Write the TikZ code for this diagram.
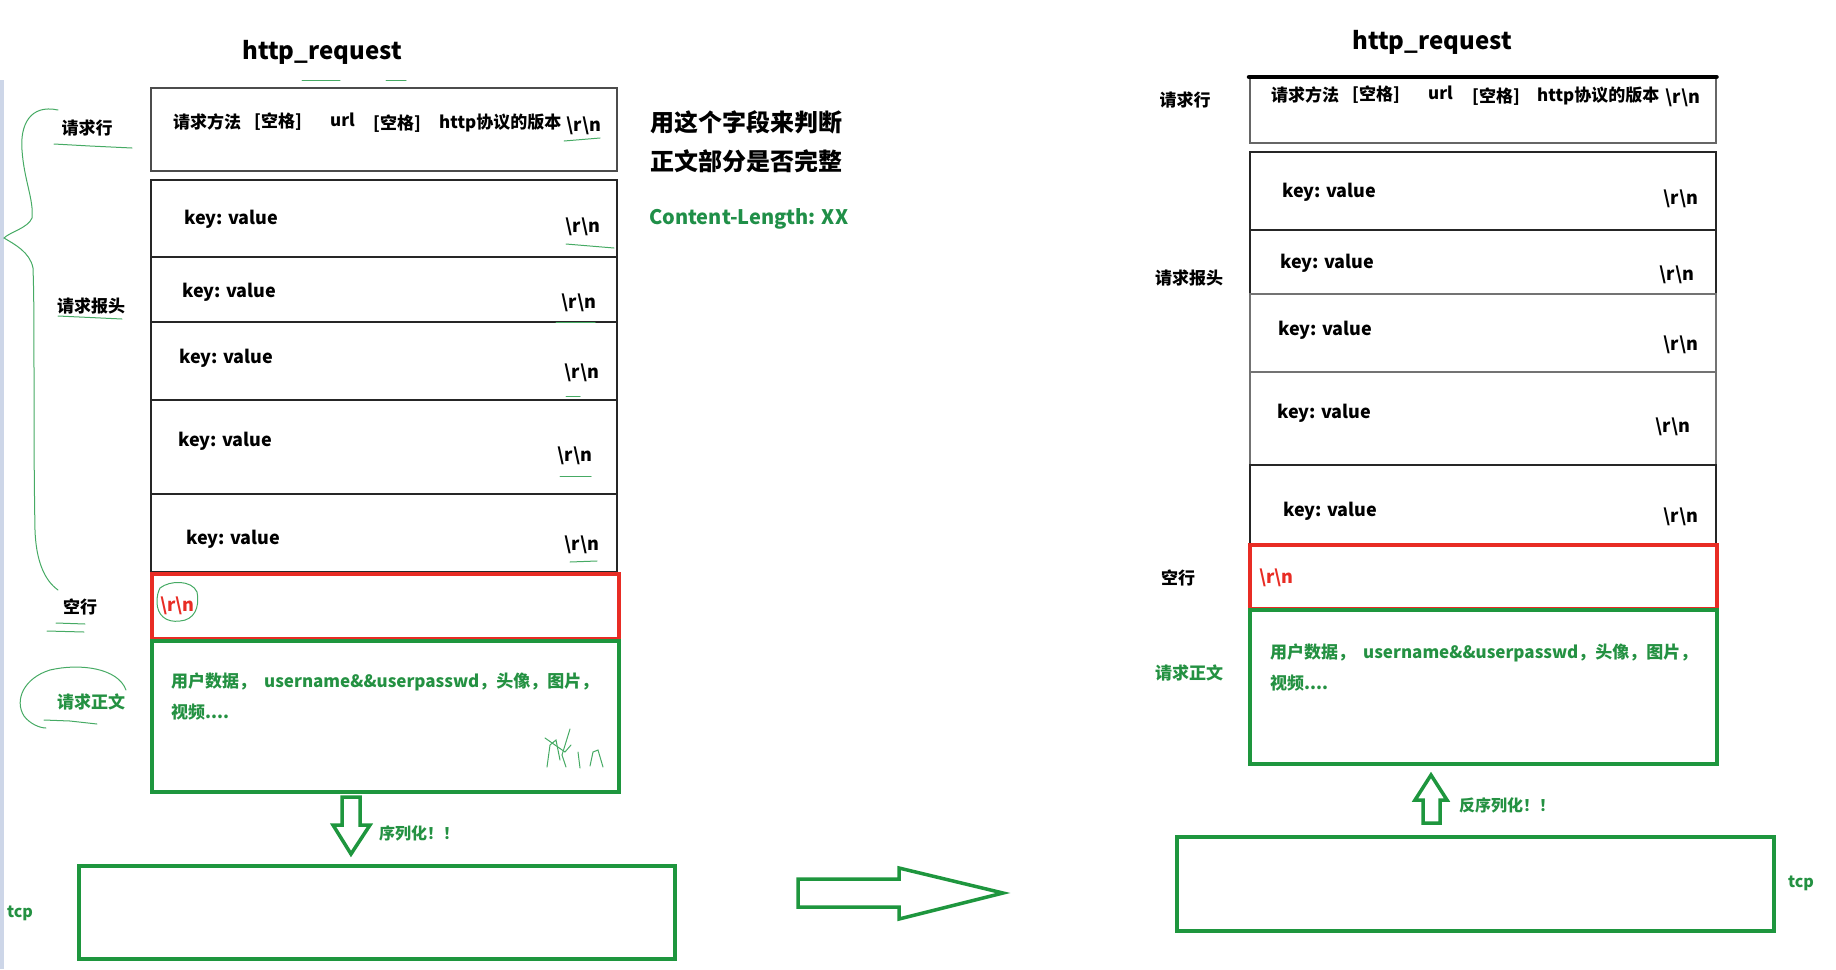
\documentclass[tikz,border=0pt]{standalone}
\usepackage{fontspec}
\setmainfont{Noto Sans CJK SC}
\definecolor{gr}{RGB}{30,150,62}
\definecolor{grt}{RGB}{36,145,66}
\definecolor{rd}{RGB}{232,44,36}
\definecolor{hand}{RGB}{70,170,100}
\definecolor{edge}{RGB}{205,214,232}
\newcommand\crlf{\textbackslash r\textbackslash n}
\begin{document}
\begin{tikzpicture}[x=1pt,y=-1pt,
  box/.style={draw=black!85, line width=2pt, minimum width=466pt, anchor=north west, inner sep=0},
  redbox/.style={draw=rd, line width=4pt, minimum width=467pt, anchor=north west, inner sep=0},
  grbox/.style={draw=gr, line width=4pt, anchor=north west, inner sep=0},
  txt/.style={font=\bfseries\fontsize{17}{20}\selectfont, inner sep=0, anchor=west},
  kv/.style={font=\bfseries\fontsize{18}{21}\selectfont, inner sep=0, anchor=west},
  rn/.style={font=\bfseries\fontsize{18}{21}\selectfont, inner sep=0},
  lab/.style={font=\bfseries\fontsize{17}{20}\selectfont, inner sep=0},
  ttl/.style={font=\bfseries\fontsize{24}{28}\selectfont, inner sep=0},
  gtxt/.style={font=\bfseries\fontsize{17}{20}\selectfont, inner sep=0, anchor=west, text=grt},
  arr/.style={draw=gr, line width=3.5pt, fill=white, line join=miter},
  hnd/.style={draw=hand, line width=1pt, line cap=round}
]
\useasboundingbox (0,0) rectangle (1836,969);
\fill[edge] (0,80) rectangle (4,969);

% ================= LEFT =================
\node[ttl] (tL) at (322,52) {http\_request};
\node[box, draw=black!70, line width=1.5pt, minimum height=83pt] (L1) at (150,87) {};
\node[box, minimum height=77pt] (L2) at (150,179) {};
\node[box, minimum height=65pt] (L3) at (150,256) {};
\node[box, minimum height=78pt] (L4) at (150,321) {};
\node[box, minimum height=94pt] (L5) at (150,399) {};
\node[box, minimum height=78pt] (L6) at (150,493) {};
\node[redbox, minimum height=65pt] (LR) at (150,572) {};
\node[grbox, minimum width=467pt, minimum height=151pt] (LB) at (150,639) {};
\node[grbox, minimum width=596pt, minimum height=93pt] (LT) at (77,864) {};

\node[txt] (l1a) at (173,122) {请求方法};
\node[txt] (l1b) at (254,122) {[空格]};
\node[txt] (l1c) at (330,120) {url};
\node[txt] (l1d) at (373,124) {[空格]};
\node[txt] (l1e) at (439,123) {http协议的版本};
\node[rn] (l1f) at (584,126) {\crlf};

\node[kv] (k2) at (184,219) {key: value};
\node[rn] (r2) at (583,227) {\crlf};
\node[kv] (k3) at (182,292) {key: value};
\node[rn] (r3) at (579,303) {\crlf};
\node[kv] (k4) at (179,358) {key: value};
\node[rn] (r4) at (582,373) {\crlf};
\node[kv] (k5) at (178,441) {key: value};
\node[rn] (r5) at (575,456) {\crlf};
\node[kv] (k6) at (186,539) {key: value};
\node[rn] (r6) at (582,545) {\crlf};
\node[kv, text=rd] (rr) at (160,606) {\crlf};

\node[gtxt] (b1) at (171,682) {用户数据，\hspace{8pt}username\&\&userpasswd，头像，图片，};
\node[gtxt] (b2) at (171,712) {视频....};

\node[lab] (nL1) at (87,128) {请求行};
\node[lab] (nL2) at (91,306) {请求报头};
\node[lab] (nL3) at (80,607) {空行};
\node[lab, text=grt] (nL4) at (91,702) {请求正文};
\node[lab, text=grt, font=\bfseries\fontsize{16}{18}\selectfont] (tcpL) at (20,913) {tcp};

\node[font=\bfseries\fontsize{24}{28}\selectfont, inner sep=0, anchor=west] (n1) at (650,122) {用这个字段来判断};
\node[font=\bfseries\fontsize{24}{28}\selectfont, inner sep=0, anchor=west] (n2) at (650,161) {正文部分是否完整};
\node[font=\bfseries\fontsize{20}{24}\selectfont, inner sep=0, anchor=west, text=grt!90!teal] (n3) at (649,219) {Content-Length: XX};

% serialize arrow
\draw[arr] (342,797) -- (360,797) -- (360,825) -- (370,825) -- (351,854) -- (333,825) -- (342,825) -- cycle;
\node[gtxt, font=\bfseries\fontsize{16}{18}\selectfont] (ser) at (379,833) {序列化！！};

% big right arrow
\draw[arr] (798,879) -- (899,879) -- (899,868) -- (1003,893) -- (899,919) -- (899,907) -- (798,907) -- cycle;

% hand annotations
\draw[hnd] (58,110) .. controls (30,104) and (20,125) .. (22,150) .. controls (24,180) and (34,200) .. (32,218) .. controls (28,228) and (10,232) .. (4,238) .. controls (14,244) and (30,252) .. (33,268) .. controls (35,320) and (33,420) .. (35,530) .. controls (36,560) and (44,580) .. (58,590);
\draw[hnd] (54,144) -- (90,146) -- (132,148);
\draw[hnd] (58,316) -- (122,319);
\draw[hnd] (302,80) -- (340,80);
\draw[hnd] (386,80) -- (406,80);
\draw[hnd] (564,141) -- (600,138);
\draw[hnd] (566,244) -- (614,248);
\draw[hnd] (556,322) -- (595,322);
\draw[hnd] (566,396) -- (580,396);
\draw[hnd] (560,476) -- (591,476);
\draw[hnd] (570,562) -- (597,561);
\draw[hnd] (160,588) .. controls (170,580) and (192,580) .. (197,592) .. controls (200,608) and (194,620) .. (180,621) .. controls (166,623) and (157,615) .. (157,602) .. controls (157,596) and (158,592) .. (160,588);
\draw[hnd] (56,623) -- (85,624);
\draw[hnd] (47,631) -- (84,632);
\draw[hnd] (126,690) .. controls (118,668) and (80,663) .. (50,670) .. controls (24,678) and (14,700) .. (24,716) .. controls (30,724) and (40,728) .. (46,728);
\draw[hnd] (44,720) -- (70,721) -- (97,724);
\draw[hnd] (547,767) -- (550,745) -- (556,740) -- (560,760);
\draw[hnd] (545,738) -- (565,752) -- (571,745);
\draw[hnd] (570,729) -- (562,755) -- (566,767);
\draw[hnd] (578,752) -- (580,768);
\draw[hnd] (590,766) -- (593,752) -- (598,750) -- (603,767);

% ================= RIGHT =================
\node[ttl] (tR) at (1432,42) {http\_request};
\node[box, draw=black!60, line width=1.5pt, minimum height=65pt] (R1) at (1249,77) {};
\draw[line width=4.5pt, line cap=round] (R1.north west) -- (R1.north east);
\node[box, minimum height=78pt] (R2) at (1249,151) {};
\node[box, minimum height=64pt] (R3) at (1249,229) {};
\node[box, draw=black!55, minimum height=78pt] (R4) at (1249,293) {};
\node[box, draw=black!55, minimum height=93pt] (R5) at (1249,371) {};
\node[box, minimum height=79pt] (R6) at (1249,464) {};
\node[redbox, minimum height=64pt] (RR) at (1248,543) {};
\node[grbox, minimum width=467pt, minimum height=154pt] (RB) at (1248,608) {};
\node[grbox, minimum width=597pt, minimum height=94pt] (RT) at (1175,835) {};

\node[txt] (r1a) at (1271,95) {请求方法};
\node[txt] (r1b) at (1352,95) {[空格]};
\node[txt] (r1c) at (1428,93) {url};
\node[txt] (r1d) at (1472,97) {[空格]};
\node[txt] (r1e) at (1537,96) {http协议的版本};
\node[rn] (r1f) at (1683,98) {\crlf};

\node[kv] (q2) at (1282,192) {key: value};
\node[rn] (s2) at (1681,199) {\crlf};
\node[kv] (q3) at (1280,263) {key: value};
\node[rn] (s3) at (1677,275) {\crlf};
\node[kv] (q4) at (1278,330) {key: value};
\node[rn] (s4) at (1681,345) {\crlf};
\node[kv] (q5) at (1277,413) {key: value};
\node[rn] (s5) at (1673,427) {\crlf};
\node[kv] (q6) at (1283,511) {key: value};
\node[rn] (s6) at (1681,517) {\crlf};
\node[kv, text=rd] (sr) at (1259,578) {\crlf};

\node[gtxt] (c1) at (1270,653) {用户数据，\hspace{8pt}username\&\&userpasswd，头像，图片，};
\node[gtxt] (c2) at (1270,683) {视频....};

\node[lab] (nR1) at (1185,100) {请求行};
\node[lab] (nR2) at (1189,278) {请求报头};
\node[lab] (nR3) at (1178,578) {空行};
\node[lab, text=grt] (nR4) at (1189,673) {请求正文};
\node[lab, text=grt, font=\bfseries\fontsize{16}{18}\selectfont] (tcpR) at (1801,883) {tcp};

% deserialize arrow
\draw[arr] (1423,823) -- (1440,823) -- (1440,800) -- (1447,800) -- (1431,775) -- (1415,800) -- (1423,800) -- cycle;
\node[gtxt, font=\bfseries\fontsize{16}{18}\selectfont] (deser) at (1459,805) {反序列化！！};
\end{tikzpicture}
\end{document}
